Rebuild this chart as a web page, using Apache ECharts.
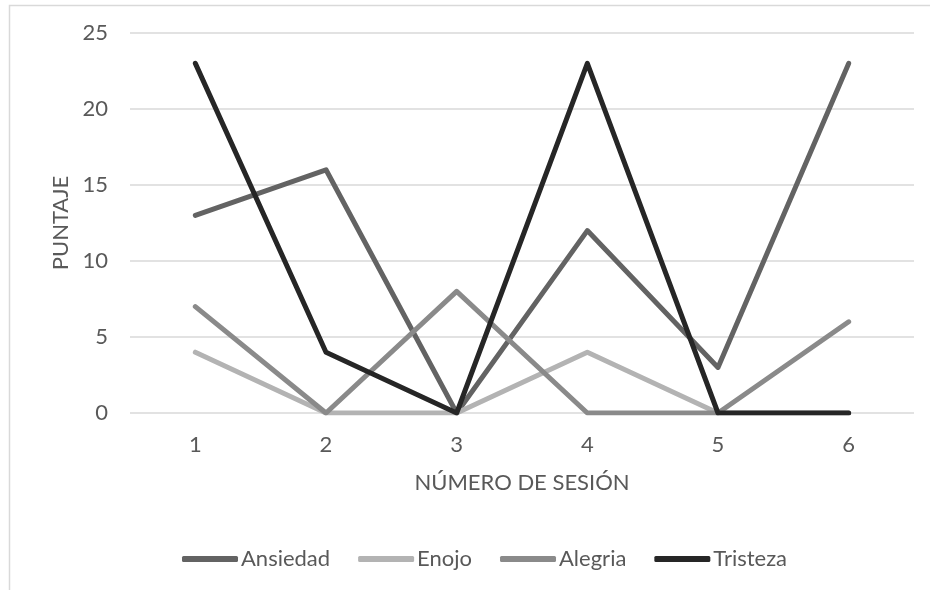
<!DOCTYPE html>
<html>
<head>
<meta charset="utf-8">
<script src="https://cdn.jsdelivr.net/npm/echarts@6/dist/echarts.min.js"></script>
<style>
  html, body { margin: 0; padding: 0; background: #fff; }
  #chart { width: 930px; height: 590px; }
</style>
</head>
<body>
<div id="chart"></div>
<script>
// Sessions and scores per emotion
const sessions = ['1', '2', '3', '4', '5', '6'];
const ansiedad = [13, 16, 0, 12, 3, 23];
const enojo = [4, 0, 0, 4, 0, 0];
const alegria = [7, 0, 8, 0, 0, 6];
const tristeza = [23, 4, 0, 23, 0, 0];

const FONT = 'Lato, "Open Sans", sans-serif';
const TXT = '#595959';
const FS = 22;

function lineSeries(name, data, color) {
  return {
    name: name,
    type: 'line',
    data: data,
    symbol: 'none',
    silent: true,
    lineStyle: { width: 5, color: color, cap: 'round', join: 'round' },
    itemStyle: { color: color }
  };
}

const chart = echarts.init(document.getElementById('chart'), null, { renderer: 'canvas' });
chart.setOption({
  animation: false,
  backgroundColor: '#fff',
  graphic: [{
    type: 'rect',
    shape: { x: 9.5, y: 5.5, width: 940, height: 600 },
    style: { fill: 'none', stroke: '#d9d9d9', lineWidth: 1.5 },
    silent: true
  }],
  grid: { left: 130, right: 16, top: 33, bottom: 177 },
  xAxis: {
    type: 'category',
    data: sessions,
    boundaryGap: true,
    name: 'NÚMERO DE SESIÓN',
    nameLocation: 'middle',
    nameGap: 59,
    nameTextStyle: { fontFamily: FONT, fontSize: FS, color: TXT },
    axisLine: { show: false },
    axisTick: { show: false },
    axisLabel: { fontFamily: FONT, fontSize: FS, color: TXT, margin: 21 },
    splitLine: { show: false }
  },
  yAxis: {
    type: 'value',
    min: 0,
    max: 25,
    interval: 5,
    name: 'PUNTAJE',
    nameLocation: 'middle',
    nameGap: 58,
    nameRotate: 90,
    nameTextStyle: { fontFamily: FONT, fontSize: FS, color: TXT },
    axisLine: { show: false },
    axisTick: { show: false },
    axisLabel: { fontFamily: FONT, fontSize: FS, color: TXT, margin: 22 },
    splitLine: { lineStyle: { color: '#d9d9d9', width: 1.5 } }
  },
  legend: {
    top: 543,
    left: 177,
    icon: 'roundRect',
    itemWidth: 56,
    itemHeight: 6,
    itemGap: 28,
    textStyle: { fontFamily: FONT, fontSize: FS, color: TXT, padding: [0, 0, 0, -2] },
    data: ['Ansiedad', 'Enojo', 'Alegria', 'Tristeza']
  },
  series: [
    lineSeries('Ansiedad', ansiedad, '#636363'),
    lineSeries('Enojo', enojo, '#b3b3b3'),
    lineSeries('Alegria', alegria, '#8a8a8a'),
    lineSeries('Tristeza', tristeza, '#262626')
  ]
});
</script>
</body>
</html>
